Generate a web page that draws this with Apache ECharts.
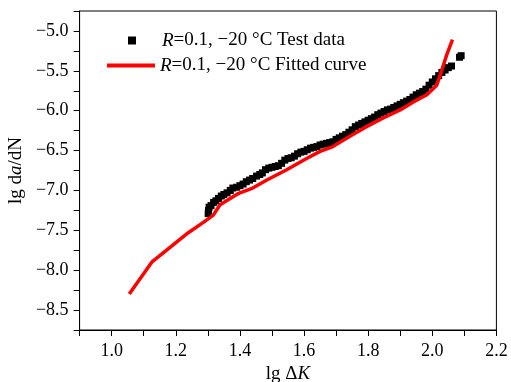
<!DOCTYPE html>
<html>
<head>
<meta charset="utf-8">
<script src="https://cdn.jsdelivr.net/npm/echarts@6/dist/echarts.min.js"></script>
<style>html,body{margin:0;padding:0;background:#fff}#c{width:511px;height:382px}</style>
</head>
<body>
<div id="c"></div>
<script>
// Test data: lg ΔK and lg da/dN
var testX = [1.301,1.302,1.304,1.310,1.318,1.325,1.333,1.342,1.350,1.360,1.370,1.378,1.390,1.400,1.410,1.420,1.430,1.440,1.452,1.462,1.470,1.480,1.490,1.500,1.510,1.520,1.530,1.540,1.550,1.560,1.570,1.580,1.590,1.600,1.610,1.620,1.630,1.640,1.650,1.660,1.670,1.680,1.690,1.700,1.710,1.720,1.730,1.740,1.750,1.760,1.770,1.780,1.790,1.800,1.810,1.820,1.830,1.840,1.850,1.860,1.870,1.880,1.890,1.900,1.910,1.920,1.930,1.940,1.950,1.960,1.970,1.980,1.990,2.000,2.010,2.020,2.030,2.040,2.050,2.060,2.085,2.090];
var testY = [-7.29,-7.25,-7.21,-7.19,-7.15,-7.13,-7.10,-7.07,-7.05,-7.03,-7.00,-6.97,-6.96,-6.94,-6.92,-6.89,-6.87,-6.85,-6.82,-6.80,-6.78,-6.74,-6.72,-6.71,-6.70,-6.69,-6.66,-6.62,-6.60,-6.59,-6.57,-6.54,-6.52,-6.51,-6.49,-6.47,-6.46,-6.45,-6.43,-6.42,-6.41,-6.40,-6.39,-6.36,-6.34,-6.32,-6.30,-6.27,-6.24,-6.20,-6.18,-6.16,-6.14,-6.12,-6.10,-6.08,-6.05,-6.03,-6.01,-5.99,-5.98,-5.96,-5.94,-5.92,-5.90,-5.88,-5.86,-5.83,-5.80,-5.78,-5.76,-5.73,-5.68,-5.64,-5.60,-5.56,-5.52,-5.49,-5.46,-5.44,-5.33,-5.31];
// Fitted curve
var fitX = [1.055,1.125,1.239,1.286,1.317,1.338,1.390,1.400,1.440,1.484,1.546,1.608,1.650,1.690,1.743,1.795,1.847,1.900,1.941,1.983,2.014,2.030,2.045,2.063];
var fitY = [-8.30,-7.90,-7.53,-7.40,-7.31,-7.18,-7.05,-7.03,-6.97,-6.87,-6.74,-6.60,-6.51,-6.45,-6.32,-6.20,-6.09,-5.99,-5.89,-5.80,-5.68,-5.49,-5.30,-5.11];
var seriesNames = ['test', 'fit'];

var FONT = 'Liberation Serif';
function minus(s){ return s.replace('-', '\u2212'); }
function zip(a, b){ return a.map(function(v, i){ return [v, b[i]]; }); }

var chart = echarts.init(document.getElementById('c'), null, {renderer: 'canvas'});
var rich = {
  s: {width: 21},
  i: {fontFamily: FONT, fontSize: 19, fontStyle: 'italic', color: '#000'},
  n: {fontFamily: FONT, fontSize: 19, color: '#000'}
};
chart.setOption({
  animation: false,
  backgroundColor: '#fff',
  grid: {left: 79.6, right: 14.6, top: 11, bottom: 52, containLabel: false, outerBoundsMode: 'none',
         show: true, borderColor: '#000', borderWidth: 1, backgroundColor: 'transparent'},
  legend: [
    {
      data: [{name: 'test', icon: 'rect', itemStyle: {color: '#000', opacity: 1}}],
      left: 123, top: 26, itemWidth: 8, itemHeight: 8,
      selectedMode: false,
      formatter: function(){ return '{s|}{i|R}{n|=0.1, \u221220 \u00B0C Test data}'; },
      textStyle: {rich: rich, fontFamily: FONT, fontSize: 19}
    },
    {
      data: [{name: 'fit', icon: 'rect', itemStyle: {color: '#ff0000'}}],
      left: 102, top: 51, itemWidth: 48, itemHeight: 4,
      selectedMode: false,
      formatter: function(){ return '{i|R}{n|=0.1, \u221220 \u00B0C Fitted curve}'; },
      textStyle: {rich: rich, fontFamily: FONT, fontSize: 19}
    }
  ],
  xAxis: {
    type: 'value', min: 0.9, max: 2.2, interval: 0.1,
    name: '{n|lg \u0394}{i|K}', nameLocation: 'middle', nameGap: 30,
    nameTextStyle: {fontFamily: FONT, fontSize: 19, color: '#000', rich: rich},
    axisLine: {show: true, lineStyle: {color: '#000', width: 1}},
    axisTick: {show: true, inside: false, length: 6, lineStyle: {color: '#000'}},
    axisLabel: {
      margin: 12, color: '#000', fontFamily: FONT, fontSize: 18,
      formatter: function(v){ var k = Math.round(v * 10); return k % 2 === 0 ? (k / 10).toFixed(1) : ''; }
    },
    splitLine: {show: false}
  },
  yAxis: {
    type: 'value', min: -8.75, max: -4.75, interval: 0.25,
    name: '{n|lg d}{i|a}{n|/dN}', nameLocation: 'middle', nameGap: 50,
    nameTextStyle: {fontFamily: FONT, fontSize: 19, color: '#000', rich: rich},
    axisLine: {show: true, lineStyle: {color: '#000', width: 1}},
    axisTick: {show: true, inside: false, length: 6, lineStyle: {color: '#000'}},
    axisLabel: {
      margin: 11, color: '#000', fontFamily: FONT, fontSize: 18,
      formatter: function(v){ var k = Math.round(v * 4); return k % 2 === 0 ? minus((k / 4).toFixed(1)) : ''; }
    },
    splitLine: {show: false}
  },
  series: [
    {
      name: seriesNames[0], type: 'scatter', symbol: 'rect', symbolSize: 7,
      itemStyle: {color: '#000', opacity: 1}, data: zip(testX, testY), z: 2
    },
    {
      name: seriesNames[1], type: 'line', symbol: 'none', showSymbol: false,
      lineStyle: {color: '#ff0000', width: 3.5}, itemStyle: {color: '#ff0000'},
      data: zip(fitX, fitY), z: 3
    }
  ]
});
</script>
</body>
</html>
